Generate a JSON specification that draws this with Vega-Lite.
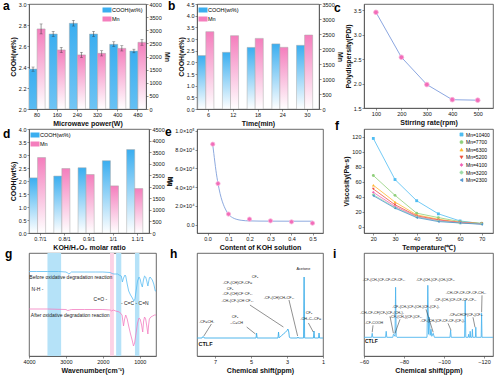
{
"$schema": "https://vega.github.io/schema/vega-lite/v6.json",
"background": "white",
"autosize": {"type": "none"},
"padding": {"left": 29, "top": 4, "right": 471, "bottom": 372},
"columns": 3,
"spacing": {"row": 20, "column": 41},
"bounds": "flush",
"resolve": {"scale": {"color": "independent", "shape": "independent", "x": "independent", "y": "independent"}, "legend": {"color": "independent", "shape": "independent"}},
"config": {
  "font": "Liberation Sans",
  "view": {"stroke": "#444", "strokeWidth": 0.8},
  "axis": {"labelFontSize": 5.5, "titleFontSize": 7, "titleFontWeight": "bold", "labelColor": "#111", "titleColor": "#111", "domainColor": "#444", "tickColor": "#444", "tickSize": 2, "tickWidth": 0.6, "domainWidth": 0.6, "labelPadding": 1, "titlePadding": 2, "grid": false, "labelFlush": false, "labelOverlap": false},
  "legend": {"labelFontSize": 5.5, "labelFont": "Liberation Sans", "titleFontSize": 6, "padding": 1, "rowPadding": 1, "offset": 2, "labelOffset": 2, "symbolStrokeWidth": 0.6, "labelLimit": 120},
  "title": {"fontSize": 12, "fontWeight": "bold", "anchor": "start", "frame": "group", "offset": 0, "color": "#000", "baseline": "alphabetic"}
},
"concat": [
{
  "title": {"text": "a", "dx": -26, "dy": 14.75},
  "width": 117, "height": 105,
  "data": {"values": [
    {"power": 80, "series": "COOH", "val": 2.38, "lo": 2.36, "hi": 2.40},
    {"power": 80, "series": "Mn", "val": 3050, "lo": 2860, "hi": 3240},
    {"power": 160, "series": "COOH", "val": 2.714, "lo": 2.69, "hi": 2.74},
    {"power": 160, "series": "Mn", "val": 2250, "lo": 2150, "hi": 2350},
    {"power": 240, "series": "COOH", "val": 2.816, "lo": 2.79, "hi": 2.845},
    {"power": 240, "series": "Mn", "val": 2060, "lo": 1960, "hi": 2160},
    {"power": 320, "series": "COOH", "val": 2.714, "lo": 2.69, "hi": 2.74},
    {"power": 320, "series": "Mn", "val": 2120, "lo": 2020, "hi": 2220},
    {"power": 400, "series": "COOH", "val": 2.616, "lo": 2.595, "hi": 2.64},
    {"power": 400, "series": "Mn", "val": 2310, "lo": 2210, "hi": 2410},
    {"power": 480, "series": "COOH", "val": 2.552, "lo": 2.535, "hi": 2.57},
    {"power": 480, "series": "Mn", "val": 2540, "lo": 2430, "hi": 2650}
  ]},
  "encoding": {
    "x": {"field": "power", "type": "ordinal", "scale": {"paddingInner": 0.2, "paddingOuter": 0}, "axis": {"title": "Microwave power(W)", "labelAngle": 0}},
    "xOffset": {"field": "series", "type": "nominal", "scale": {"domain": ["COOH", "Mn"]}}
  },
  "layer": [
    {"transform": [{"filter": "datum.series == 'COOH'"}],
     "layer": [
      {"mark": {"type": "bar", "clip": true, "fill": {"gradient": "linear", "x1": 0, "y1": 0, "x2": 0, "y2": 1, "stops": [{"offset": 0, "color": "#3aaef0"}, {"offset": 1, "color": "#ffffff"}]}, "stroke": "#a9a9a9", "strokeWidth": 0.5},
       "encoding": {"y": {"field": "val", "type": "quantitative", "title": "COOH(wt%)", "scale": {"domain": [2, 3], "nice": false, "zero": false}, "axis": {"values": [2, 2.2, 2.4, 2.6, 2.8, 3], "format": ".1f", "labelOverlap": false}}}},
      {"mark": {"type": "rule", "color": "#333", "strokeWidth": 0.5}, "encoding": {"y": {"field": "lo", "type": "quantitative", "title": "COOH(wt%)", "axis": {"values": [2, 2.2, 2.4, 2.6, 2.8, 3], "format": ".1f", "labelOverlap": false}}, "y2": {"field": "hi"}}},
      {"mark": {"type": "tick", "color": "#333", "size": 3, "thickness": 0.5}, "encoding": {"y": {"field": "lo", "type": "quantitative", "title": "COOH(wt%)", "axis": {"values": [2, 2.2, 2.4, 2.6, 2.8, 3], "format": ".1f", "labelOverlap": false}}}},
      {"mark": {"type": "tick", "color": "#333", "size": 3, "thickness": 0.5}, "encoding": {"y": {"field": "hi", "type": "quantitative", "title": "COOH(wt%)", "axis": {"values": [2, 2.2, 2.4, 2.6, 2.8, 3], "format": ".1f", "labelOverlap": false}}}},
      {"mark": {"type": "point", "filled": true, "opacity": 0}, "encoding": {"y": {"field": "val", "type": "quantitative", "title": "COOH(wt%)", "axis": {"values": [2, 2.2, 2.4, 2.6, 2.8, 3], "format": ".1f", "labelOverlap": false}},
        "color": {"field": "series", "type": "nominal", "scale": {"domain": ["COOH", "Mn"], "range": ["#3aaef0", "#f47ebd"]},
          "legend": {"title": null, "orient": "top-right", "labelExpr": "datum.label == 'COOH' ? 'COOH(wt%)' : 'Mn'", "symbolType": "M-1.8,-1H1.8V1H-1.8Z", "symbolSize": 25, "symbolOpacity": 1, "symbolStrokeColor": "#999", "symbolStrokeWidth": 0.4,
            "encode": {"symbols": {"update": {"opacity": {"value": 1}, "fill": {"signal": "datum.value == 'Mn' ? {gradient: 'linear', x1: 0, y1: 0, x2: 0, y2: 1, stops: [{offset: 0, color: '#f47ebd'}, {offset: 1, color: '#ffffff'}]} : {gradient: 'linear', x1: 0, y1: 0, x2: 0, y2: 1, stops: [{offset: 0, color: '#3aaef0'}, {offset: 1, color: '#ffffff'}]}"}}}}}}}}
     ]},
    {"transform": [{"filter": "datum.series == 'Mn'"}],
     "layer": [
      {"mark": {"type": "bar", "clip": true, "fill": {"gradient": "linear", "x1": 0, "y1": 0, "x2": 0, "y2": 1, "stops": [{"offset": 0, "color": "#f47ebd"}, {"offset": 1, "color": "#ffffff"}]}, "stroke": "#a9a9a9", "strokeWidth": 0.5},
       "encoding": {"y": {"field": "val", "type": "quantitative", "title": "Mn", "scale": {"domain": [0, 4000], "nice": false}, "axis": {"orient": "right", "values": [0, 500, 1000, 1500, 2000, 2500, 3000, 3500, 4000], "format": "d", "labelOverlap": false}}}},
      {"mark": {"type": "rule", "color": "#333", "strokeWidth": 0.5}, "encoding": {"y": {"field": "lo", "type": "quantitative", "title": "Mn", "axis": {"orient": "right", "values": [0, 500, 1000, 1500, 2000, 2500, 3000, 3500, 4000], "format": "d", "labelOverlap": false}}, "y2": {"field": "hi"}}},
      {"mark": {"type": "tick", "color": "#333", "size": 3, "thickness": 0.5}, "encoding": {"y": {"field": "lo", "type": "quantitative", "title": "Mn", "axis": {"orient": "right", "values": [0, 500, 1000, 1500, 2000, 2500, 3000, 3500, 4000], "format": "d", "labelOverlap": false}}}},
      {"mark": {"type": "tick", "color": "#333", "size": 3, "thickness": 0.5}, "encoding": {"y": {"field": "hi", "type": "quantitative", "title": "Mn", "axis": {"orient": "right", "values": [0, 500, 1000, 1500, 2000, 2500, 3000, 3500, 4000], "format": "d", "labelOverlap": false}}}}
     ]}
  ],
  "resolve": {"scale": {"y": "independent"}}
},
{
  "title": {"text": "b", "dx": -29, "dy": 14.75},
  "width": 122, "height": 105,
  "data": {"values": [
    {"time": 6, "series": "COOH", "val": 2.29}, {"time": 6, "series": "Mn", "val": 2577},
    {"time": 12, "series": "COOH", "val": 2.43}, {"time": 12, "series": "Mn", "val": 2444},
    {"time": 18, "series": "COOH", "val": 2.64}, {"time": 18, "series": "Mn", "val": 2354},
    {"time": 24, "series": "COOH", "val": 2.79}, {"time": 24, "series": "Mn", "val": 2056},
    {"time": 30, "series": "COOH", "val": 2.73}, {"time": 30, "series": "Mn", "val": 2466}
  ]},
  "encoding": {
    "x": {"field": "time", "type": "ordinal", "scale": {"paddingInner": 0.12, "paddingOuter": 0.03}, "axis": {"title": "Time(min)", "labelAngle": 0}},
    "xOffset": {"field": "series", "type": "nominal", "scale": {"domain": ["COOH", "Mn"]}}
  },
  "layer": [
    {"transform": [{"filter": "datum.series == 'COOH'"}],
     "layer": [
      {"mark": {"type": "bar", "clip": true, "fill": {"gradient": "linear", "x1": 0, "y1": 0, "x2": 0, "y2": 1, "stops": [{"offset": 0, "color": "#3aaef0"}, {"offset": 1, "color": "#ffffff"}]}, "stroke": "#a9a9a9", "strokeWidth": 0.5},
       "encoding": {"y": {"field": "val", "type": "quantitative", "title": "COOH(wt%)", "scale": {"domain": [0, 4.5], "nice": false}, "axis": {"values": [0, 0.5, 1, 1.5, 2, 2.5, 3, 3.5, 4, 4.5], "format": ".1f", "labelOverlap": false}}}},
      {"mark": {"type": "point", "filled": true, "opacity": 0}, "encoding": {"y": {"field": "val", "type": "quantitative", "title": "COOH(wt%)", "axis": {"values": [0, 0.5, 1, 1.5, 2, 2.5, 3, 3.5, 4, 4.5], "format": ".1f", "labelOverlap": false}},
        "color": {"field": "series", "type": "nominal", "scale": {"domain": ["COOH", "Mn"], "range": ["#3aaef0", "#f47ebd"]},
          "legend": {"title": null, "orient": "top-left", "labelExpr": "datum.label == 'COOH' ? 'COOH(wt%)' : 'Mn'", "symbolType": "M-1.8,-1H1.8V1H-1.8Z", "symbolSize": 25, "symbolOpacity": 1, "symbolStrokeColor": "#999", "symbolStrokeWidth": 0.4,
            "encode": {"symbols": {"update": {"opacity": {"value": 1}, "fill": {"signal": "datum.value == 'Mn' ? {gradient: 'linear', x1: 0, y1: 0, x2: 0, y2: 1, stops: [{offset: 0, color: '#f47ebd'}, {offset: 1, color: '#ffffff'}]} : {gradient: 'linear', x1: 0, y1: 0, x2: 0, y2: 1, stops: [{offset: 0, color: '#3aaef0'}, {offset: 1, color: '#ffffff'}]}"}}}}}}}}
     ]},
    {"transform": [{"filter": "datum.series == 'Mn'"}],
     "mark": {"type": "bar", "clip": true, "fill": {"gradient": "linear", "x1": 0, "y1": 0, "x2": 0, "y2": 1, "stops": [{"offset": 0, "color": "#f47ebd"}, {"offset": 1, "color": "#ffffff"}]}, "stroke": "#a9a9a9", "strokeWidth": 0.5},
     "encoding": {"y": {"field": "val", "type": "quantitative", "title": "Mn", "scale": {"domain": [0, 3500], "nice": false}, "axis": {"orient": "right", "values": [0, 500, 1000, 1500, 2000, 2500, 3000, 3500], "format": "d", "labelOverlap": false}}}}
  ],
  "resolve": {"scale": {"y": "independent"}}
},
{
  "title": {"text": "c", "dx": -30, "dy": 15},
  "width": 129, "height": 104,
  "data": {"values": [{"rate": 100, "pdi": 3.46}, {"rate": 200, "pdi": 2.54}, {"rate": 300, "pdi": 1.98}, {"rate": 400, "pdi": 1.67}, {"rate": 500, "pdi": 1.66}]},
  "encoding": {
    "x": {"field": "rate", "type": "quantitative", "scale": {"domain": [53, 560], "nice": false}, "axis": {"title": "Stirring rate(rpm)", "values": [100, 200, 300, 400, 500]}},
    "y": {"field": "pdi", "type": "quantitative", "scale": {"domain": [1.5, 3.63], "nice": false, "zero": false}, "axis": {"title": "Polydispersity(PDI)", "values": [1.5, 2, 2.5, 3, 3.5], "format": ".1f"}}
  },
  "layer": [
    {"mark": {"type": "line", "color": "#6d8fd8", "strokeWidth": 0.8}},
    {"mark": {"type": "point", "filled": true, "fill": "#f26cb9", "stroke": "#f9b3d9", "strokeWidth": 0.8, "size": 22, "opacity": 1}}
  ]
},
{
  "title": {"text": "d", "dx": -26, "dy": 17.5},
  "width": 120, "height": 104,
  "data": {"values": [
    {"ratio": "0.7/1", "series": "COOH", "val": 2.12}, {"ratio": "0.7/1", "series": "Mn", "val": 3266},
    {"ratio": "0.8/1", "series": "COOH", "val": 2.19}, {"ratio": "0.8/1", "series": "Mn", "val": 2791},
    {"ratio": "0.9/1", "series": "COOH", "val": 2.51}, {"ratio": "0.9/1", "series": "Mn", "val": 2531},
    {"ratio": "1/1", "series": "COOH", "val": 2.78}, {"ratio": "1/1", "series": "Mn", "val": 2039},
    {"ratio": "1.1/1", "series": "COOH", "val": 3.21}, {"ratio": "1.1/1", "series": "Mn", "val": 1923}
  ]},
  "encoding": {
    "x": {"field": "ratio", "type": "ordinal", "sort": ["0.7/1", "0.8/1", "0.9/1", "1/1", "1.1/1"], "scale": {"paddingInner": 0.1, "paddingOuter": 0.02}, "axis": {"title": "KOH/H₂O₂ molar ratio", "labelAngle": 0}},
    "xOffset": {"field": "series", "type": "nominal", "scale": {"domain": ["COOH", "Mn"]}}
  },
  "layer": [
    {"transform": [{"filter": "datum.series == 'COOH'"}],
     "layer": [
      {"mark": {"type": "bar", "clip": true, "fill": {"gradient": "linear", "x1": 0, "y1": 0, "x2": 0, "y2": 1, "stops": [{"offset": 0, "color": "#3aaef0"}, {"offset": 1, "color": "#ffffff"}]}, "stroke": "#a9a9a9", "strokeWidth": 0.5},
       "encoding": {"y": {"field": "val", "type": "quantitative", "title": "COOH(wt%)", "scale": {"domain": [0, 4], "nice": false}, "axis": {"values": [0, 0.5, 1, 1.5, 2, 2.5, 3, 3.5, 4], "format": ".1f", "labelOverlap": false}}}},
      {"mark": {"type": "point", "filled": true, "opacity": 0}, "encoding": {"y": {"field": "val", "type": "quantitative", "title": "COOH(wt%)", "axis": {"values": [0, 0.5, 1, 1.5, 2, 2.5, 3, 3.5, 4], "format": ".1f", "labelOverlap": false}},
        "color": {"field": "series", "type": "nominal", "scale": {"domain": ["COOH", "Mn"], "range": ["#3aaef0", "#f47ebd"]},
          "legend": {"title": null, "orient": "top-left", "labelExpr": "datum.label == 'COOH' ? 'COOH(wt%)' : 'Mn'", "symbolType": "M-1.8,-1H1.8V1H-1.8Z", "symbolSize": 25, "symbolOpacity": 1, "symbolStrokeColor": "#999", "symbolStrokeWidth": 0.4,
            "encode": {"symbols": {"update": {"opacity": {"value": 1}, "fill": {"signal": "datum.value == 'Mn' ? {gradient: 'linear', x1: 0, y1: 0, x2: 0, y2: 1, stops: [{offset: 0, color: '#f47ebd'}, {offset: 1, color: '#ffffff'}]} : {gradient: 'linear', x1: 0, y1: 0, x2: 0, y2: 1, stops: [{offset: 0, color: '#3aaef0'}, {offset: 1, color: '#ffffff'}]}"}}}}}}}}
     ]},
    {"transform": [{"filter": "datum.series == 'Mn'"}],
     "mark": {"type": "bar", "clip": true, "fill": {"gradient": "linear", "x1": 0, "y1": 0, "x2": 0, "y2": 1, "stops": [{"offset": 0, "color": "#f47ebd"}, {"offset": 1, "color": "#ffffff"}]}, "stroke": "#a9a9a9", "strokeWidth": 0.5},
     "encoding": {"y": {"field": "val", "type": "quantitative", "title": "Mn", "scale": {"domain": [0, 4500], "nice": false}, "axis": {"orient": "right", "values": [0, 500, 1000, 1500, 2000, 2500, 3000, 3500, 4000, 4500], "format": "d", "labelOverlap": false}}}}
  ],
  "resolve": {"scale": {"y": "independent"}}
},
{
  "title": {"text": "e", "dx": -32, "dy": 14.5},
  "width": 126, "height": 104,
  "encoding": {
    "x": {"field": "koh", "type": "quantitative", "scale": {"domain": [-0.05, 0.55], "nice": false}, "axis": {"title": "Content of KOH solution", "values": [0, 0.1, 0.2, 0.3, 0.4, 0.5], "format": ".1f"}},
    "y": {"field": "mn", "type": "quantitative", "scale": {"domain": [-9000, 102000], "nice": false, "zero": false}, "axis": {"title": "Mn", "values": [0, 20000, 40000, 60000, 80000, 100000], "labelExpr": "datum.value == 0 ? '0.0' : datum.value >= 100000 ? '1.0×10⁵' : format(datum.value / 10000, '.1f') + '×10⁴'"}}
  },
  "layer": [
    {"data": {"values": [
      {"koh": 0.025, "mn": 85000}, {"koh": 0.03, "mn": 76000}, {"koh": 0.04, "mn": 58000}, {"koh": 0.05, "mn": 44000},
      {"koh": 0.06, "mn": 33000}, {"koh": 0.07, "mn": 25000}, {"koh": 0.08, "mn": 19000}, {"koh": 0.09, "mn": 14500},
      {"koh": 0.1, "mn": 11000}, {"koh": 0.12, "mn": 7300}, {"koh": 0.14, "mn": 5500}, {"koh": 0.16, "mn": 4600},
      {"koh": 0.18, "mn": 4100}, {"koh": 0.2, "mn": 3900}, {"koh": 0.25, "mn": 3700}, {"koh": 0.3, "mn": 3650},
      {"koh": 0.4, "mn": 3600}, {"koh": 0.5, "mn": 3600}
     ]},
     "mark": {"type": "line", "color": "#8eaadf", "strokeWidth": 1, "interpolate": "monotone"}},
    {"data": {"values": [
      {"koh": 0.025, "mn": 85800}, {"koh": 0.05, "mn": 43700}, {"koh": 0.1, "mn": 11200}, {"koh": 0.2, "mn": 5800},
      {"koh": 0.3, "mn": 4000}, {"koh": 0.4, "mn": 2900}, {"koh": 0.5, "mn": 1500}
     ]},
     "mark": {"type": "point", "filled": true, "fill": "#f26cb9", "stroke": "#f9b3d9", "strokeWidth": 0.8, "size": 18, "opacity": 1}}
  ]
},
{
  "title": {"text": "f", "dx": -29, "dy": 8},
  "width": 129, "height": 104,
  "data": {"values": [
    {"t": 20, "s": "Mn=10400", "v": 117.8}, {"t": 30, "s": "Mn=10400", "v": 62.9}, {"t": 40, "s": "Mn=10400", "v": 34.6}, {"t": 50, "s": "Mn=10400", "v": 17.1}, {"t": 60, "s": "Mn=10400", "v": 7.6}, {"t": 70, "s": "Mn=10400", "v": 4},
    {"t": 20, "s": "Mn=7700", "v": 68.3}, {"t": 30, "s": "Mn=7700", "v": 41.8}, {"t": 40, "s": "Mn=7700", "v": 18}, {"t": 50, "s": "Mn=7700", "v": 12.1}, {"t": 60, "s": "Mn=7700", "v": 6.7}, {"t": 70, "s": "Mn=7700", "v": 4.5},
    {"t": 20, "s": "Mn=6300", "v": 55.3}, {"t": 30, "s": "Mn=6300", "v": 32.8}, {"t": 40, "s": "Mn=6300", "v": 15.7}, {"t": 50, "s": "Mn=6300", "v": 9.9}, {"t": 60, "s": "Mn=6300", "v": 5.8}, {"t": 70, "s": "Mn=6300", "v": 4},
    {"t": 20, "s": "Mn=5200", "v": 50.3}, {"t": 30, "s": "Mn=5200", "v": 29.2}, {"t": 40, "s": "Mn=5200", "v": 14.4}, {"t": 50, "s": "Mn=5200", "v": 9}, {"t": 60, "s": "Mn=5200", "v": 5.4}, {"t": 70, "s": "Mn=5200", "v": 4},
    {"t": 20, "s": "Mn=4100", "v": 45.8}, {"t": 30, "s": "Mn=4100", "v": 27}, {"t": 40, "s": "Mn=4100", "v": 13.5}, {"t": 50, "s": "Mn=4100", "v": 8.1}, {"t": 60, "s": "Mn=4100", "v": 5.4}, {"t": 70, "s": "Mn=4100", "v": 3.6},
    {"t": 20, "s": "Mn=3200", "v": 42.7}, {"t": 30, "s": "Mn=3200", "v": 25.6}, {"t": 40, "s": "Mn=3200", "v": 13}, {"t": 50, "s": "Mn=3200", "v": 7.6}, {"t": 60, "s": "Mn=3200", "v": 4.9}, {"t": 70, "s": "Mn=3200", "v": 3.6},
    {"t": 20, "s": "Mn=2300", "v": 41.3}, {"t": 30, "s": "Mn=2300", "v": 24.7}, {"t": 40, "s": "Mn=2300", "v": 12.1}, {"t": 50, "s": "Mn=2300", "v": 6.7}, {"t": 60, "s": "Mn=2300", "v": 4.9}, {"t": 70, "s": "Mn=2300", "v": 3.1}
  ]},
  "encoding": {
    "x": {"field": "t", "type": "quantitative", "scale": {"domain": [15.7, 75.2], "nice": false}, "axis": {"title": "Temperature(℃)", "values": [20, 30, 40, 50, 60, 70]}},
    "y": {"field": "v", "type": "quantitative", "scale": {"domain": [-8.5, 130.4], "nice": false, "zero": false}, "axis": {"title": "Viscosity(Pa·s)", "values": [0, 20, 40, 60, 80, 100, 120]}},
    "color": {"field": "s", "type": "nominal", "scale": {"domain": ["Mn=10400", "Mn=7700", "Mn=6300", "Mn=5200", "Mn=4100", "Mn=3200", "Mn=2300"], "range": ["#4fbdf2", "#8fcf7a", "#ffb62e", "#ee4f3c", "#f160b6", "#9fdcaa", "#4d92cf"]},
      "legend": {"title": null, "orient": "top-right", "labelFontSize": 5, "symbolSize": 10, "rowPadding": 0.6, "offset": 3, "padding": 0}}
  },
  "layer": [
    {"mark": {"type": "line", "strokeWidth": 0.8}},
    {"mark": {"type": "point", "filled": true, "size": 8, "opacity": 1},
     "encoding": {"shape": {"field": "s", "type": "nominal", "scale": {"domain": ["Mn=10400", "Mn=7700", "Mn=6300", "Mn=5200", "Mn=4100", "Mn=3200", "Mn=2300"], "range": ["square", "circle", "triangle-up", "triangle-down", "diamond", "cross", "triangle-left"]},
      "legend": {"title": null, "orient": "top-right", "labelFontSize": 5, "symbolSize": 10, "rowPadding": 0.6, "offset": 3, "padding": 0}}}}
  ]
},
{
  "title": {"text": "g", "dx": -24, "dy": 12},
  "width": 127, "height": 103,
  "layer": [
    {"data": {"values": [{"a": 3500, "b": 3130}, {"a": 1640, "b": 1500}, {"a": 1130, "b": 1010}]},
     "mark": {"type": "rect", "color": "#b5e2f8", "opacity": 1},
     "encoding": {"x": {"field": "a", "type": "quantitative", "scale": {"domain": [560, 4000], "reverse": true, "nice": false, "zero": false}, "axis": {"title": "Wavenumber(cm⁻¹)", "values": [1000, 1500, 2000, 2500, 3000, 3500, 4000], "format": "d"}}, "x2": {"field": "b"}}},
    {"data": {"values": [{"a": 1805, "b": 1700}]},
     "mark": {"type": "rect", "color": "#fcd3e6", "opacity": 1},
     "encoding": {"x": {"field": "a", "type": "quantitative"}, "x2": {"field": "b"}}},
    {"data": {"values": [
      {"wn": 4000, "v": 84.5}, {"wn": 3800, "v": 84.5}, {"wn": 3500, "v": 84.5}, {"wn": 3200, "v": 84.5}, {"wn": 3000, "v": 84}, {"wn": 2950, "v": 83}, {"wn": 2920, "v": 82}, {"wn": 2880, "v": 83}, {"wn": 2850, "v": 84},
      {"wn": 2500, "v": 84}, {"wn": 2200, "v": 84}, {"wn": 2000, "v": 84}, {"wn": 1800, "v": 83.5}, {"wn": 1750, "v": 82.5}, {"wn": 1700, "v": 82}, {"wn": 1650, "v": 82}, {"wn": 1600, "v": 82},
      {"wn": 1560, "v": 81}, {"wn": 1500, "v": 80}, {"wn": 1470, "v": 74}, {"wn": 1440, "v": 78}, {"wn": 1400, "v": 81}, {"wn": 1380, "v": 80}, {"wn": 1340, "v": 72}, {"wn": 1300, "v": 65},
      {"wn": 1250, "v": 61}, {"wn": 1200, "v": 58}, {"wn": 1160, "v": 55}, {"wn": 1130, "v": 57}, {"wn": 1100, "v": 65}, {"wn": 1060, "v": 75}, {"wn": 1020, "v": 79}, {"wn": 990, "v": 77},
      {"wn": 960, "v": 72}, {"wn": 930, "v": 69}, {"wn": 900, "v": 76}, {"wn": 870, "v": 80}, {"wn": 840, "v": 79}, {"wn": 810, "v": 75}, {"wn": 780, "v": 70}, {"wn": 760, "v": 74},
      {"wn": 740, "v": 78}, {"wn": 720, "v": 79}, {"wn": 700, "v": 78}, {"wn": 660, "v": 76}, {"wn": 620, "v": 72}, {"wn": 580, "v": 65}, {"wn": 560, "v": 65}
     ]},
     "mark": {"type": "line", "color": "#5bbcf2", "strokeWidth": 0.8},
     "encoding": {"x": {"field": "wn", "type": "quantitative"}, "y": {"field": "v", "type": "quantitative", "scale": {"domain": [0, 103], "nice": false}, "axis": null}}},
    {"data": {"values": [
      {"wn": 4000, "v": 47}, {"wn": 3500, "v": 47}, {"wn": 3000, "v": 46.5}, {"wn": 2950, "v": 45.5}, {"wn": 2900, "v": 46}, {"wn": 2850, "v": 46.5}, {"wn": 2500, "v": 46.5}, {"wn": 2000, "v": 46.5},
      {"wn": 1800, "v": 46}, {"wn": 1760, "v": 45}, {"wn": 1720, "v": 46}, {"wn": 1650, "v": 45}, {"wn": 1550, "v": 44}, {"wn": 1480, "v": 41}, {"wn": 1440, "v": 30}, {"wn": 1410, "v": 37},
      {"wn": 1380, "v": 41}, {"wn": 1340, "v": 37}, {"wn": 1300, "v": 30}, {"wn": 1250, "v": 22}, {"wn": 1200, "v": 15}, {"wn": 1170, "v": 10}, {"wn": 1140, "v": 13}, {"wn": 1100, "v": 23},
      {"wn": 1060, "v": 33}, {"wn": 1020, "v": 38}, {"wn": 990, "v": 37}, {"wn": 950, "v": 31}, {"wn": 920, "v": 24}, {"wn": 895, "v": 35}, {"wn": 870, "v": 39}, {"wn": 840, "v": 37},
      {"wn": 810, "v": 30}, {"wn": 780, "v": 22}, {"wn": 760, "v": 31}, {"wn": 740, "v": 37}, {"wn": 700, "v": 39}, {"wn": 650, "v": 40}, {"wn": 600, "v": 41}, {"wn": 560, "v": 41}
     ]},
     "mark": {"type": "line", "color": "#f27ec0", "strokeWidth": 0.8},
     "encoding": {"x": {"field": "wn", "type": "quantitative"}, "y": {"field": "v", "type": "quantitative"}}},
    {"data": {"values": [
      {"wn": 3990, "v": 79, "t": "Before oxidative degradation reaction"},
      {"wn": 3930, "v": 67, "t": "N-H -"},
      {"wn": 2250, "v": 57, "t": "C=O -"},
      {"wn": 1510, "v": 53, "t": "- C=C - C=N"},
      {"wn": 3950, "v": 41, "t": "After oxidative degradation reaction"}
     ]},
     "mark": {"type": "text", "align": "left", "baseline": "middle", "fontSize": 5, "color": "#222"},
     "encoding": {"x": {"field": "wn", "type": "quantitative"}, "y": {"field": "v", "type": "quantitative"}, "text": {"field": "t"}}}
  ]
},
{
  "title": {"text": "h", "dx": -27, "dy": 12},
  "width": 126, "height": 103,
  "layer": [
    {"data": {"values": [
      {"p": 8, "y": 0}, {"p": 7.72, "y": 0}, {"p": 7.69, "y": 1.2}, {"p": 7.63, "y": 1.2}, {"p": 7.6, "y": 0}, {"p": 4.72, "y": 0}, {"p": 4.69, "y": 5}, {"p": 4.66, "y": 0},
      {"p": 3.5, "y": 0}, {"p": 3.47, "y": 6}, {"p": 3.44, "y": 0.3}, {"p": 3.4, "y": 0.6}, {"p": 3.3, "y": 2.5}, {"p": 3.2, "y": 4}, {"p": 3.1, "y": 5.5}, {"p": 3.0, "y": 7.5},
      {"p": 2.95, "y": 9}, {"p": 2.9, "y": 6}, {"p": 2.87, "y": 1}, {"p": 2.82, "y": 0}, {"p": 2.42, "y": 0}, {"p": 2.39, "y": 1}, {"p": 2.36, "y": 0}, {"p": 2.08, "y": 0},
      {"p": 2.05, "y": 61}, {"p": 2.02, "y": 0}, {"p": 1.53, "y": 0}, {"p": 1.5, "y": 7}, {"p": 1.47, "y": 0}, {"p": 1.25, "y": 0}, {"p": 1.22, "y": 5}, {"p": 1.19, "y": 0}, {"p": 1, "y": 0}
     ]},
     "mark": {"type": "line", "color": "#3daee9", "strokeWidth": 0.9},
     "encoding": {"x": {"field": "p", "type": "quantitative", "scale": {"domain": [1, 8], "reverse": true, "nice": false, "zero": false}, "axis": {"title": "Chemical shift(ppm)", "values": [1, 2, 3, 4, 5, 6, 7, 8]}},
       "y": {"field": "y", "type": "quantitative", "scale": {"domain": [-18, 85], "nice": false}, "axis": null}}},
    {"data": {"values": [
      {"x": 7.2, "y": 14, "x2": 7.62, "y2": 2}, {"x": 5.24, "y": 11, "x2": 4.75, "y2": 4}, {"x": 5.06, "y": 33, "x2": 3.2, "y2": 11},
      {"x": 2.89, "y": 38, "x2": 2.41, "y2": 2}, {"x": 1.81, "y": 15, "x2": 1.54, "y2": 6}
     ]},
     "mark": {"type": "rule", "color": "#222", "strokeWidth": 0.5},
     "encoding": {"x": {"field": "x", "type": "quantitative"}, "y": {"field": "y", "type": "quantitative"}, "x2": {"field": "x2"}, "y2": {"field": "y2"}}},
    {"data": {"values": [
      {"x": 7.47, "y": 16, "t": "-CF=CH-"},
      {"x": 5.89, "y": 21, "t": "CF₃"},
      {"x": 5.8, "y": 15, "t": "–C=CH"},
      {"x": 4.78, "y": 61, "t": "CF₃"},
      {"x": 5.75, "y": 55, "t": "-CF₂(CH)CF₂CF="},
      {"x": 6.17, "y": 49, "t": "CF₃"},
      {"x": 5.75, "y": 44, "t": "-CF₂(CH)CF·CF₂-"},
      {"x": 5.75, "y": 37, "t": "-CH₂(CF₂)CH·CF₂-"},
      {"x": 3.44, "y": 40, "t": "-CF₂(CH)CH₂CF₂-"},
      {"x": 2.09, "y": 69, "t": "Acetone"},
      {"x": 1.78, "y": 25, "t": "CF₃"},
      {"x": 1.68, "y": 19, "t": "-CH–C–CF="}
     ]},
     "mark": {"type": "text", "fontSize": 3.8, "color": "#222", "baseline": "middle"},
     "encoding": {"x": {"field": "x", "type": "quantitative"}, "y": {"field": "y", "type": "quantitative"}, "text": {"field": "t"}}},
    {"data": {"values": [{"x": 7.92, "y": -6, "t": "CTLF"}]},
     "mark": {"type": "text", "fontSize": 5.5, "fontWeight": "bold", "color": "#111", "align": "left", "baseline": "middle"},
     "encoding": {"x": {"field": "x", "type": "quantitative"}, "y": {"field": "y", "type": "quantitative"}, "text": {"field": "t"}}}
  ]
},
{
  "title": {"text": "i", "dx": -31, "dy": 12},
  "width": 129, "height": 103,
  "layer": [
    {"data": {"values": [
      {"p": -60, "y": 0}, {"p": -63.8, "y": 0}, {"p": -64.1, "y": 4}, {"p": -64.4, "y": 0}, {"p": -70.8, "y": 0}, {"p": -71.1, "y": 6}, {"p": -71.4, "y": 0},
      {"p": -74.4, "y": 0}, {"p": -74.7, "y": 3}, {"p": -75.5, "y": 1}, {"p": -75.8, "y": 50}, {"p": -76.1, "y": 1}, {"p": -76.5, "y": 0},
      {"p": -91.5, "y": 0}, {"p": -91.9, "y": 52}, {"p": -92.3, "y": 3}, {"p": -92.7, "y": 20}, {"p": -93.1, "y": 2}, {"p": -93.5, "y": 8}, {"p": -93.9, "y": 1}, {"p": -94.6, "y": 4}, {"p": -95.2, "y": 0},
      {"p": -103, "y": 0}, {"p": -103.3, "y": 7}, {"p": -103.6, "y": 0}, {"p": -110.3, "y": 0}, {"p": -110.6, "y": 37}, {"p": -110.9, "y": 0},
      {"p": -112.1, "y": 0}, {"p": -112.3, "y": 3}, {"p": -112.5, "y": 0}, {"p": -112.9, "y": 0}, {"p": -113.1, "y": 6}, {"p": -113.3, "y": 0},
      {"p": -114, "y": 0}, {"p": -114.2, "y": 8}, {"p": -114.4, "y": 0}, {"p": -115.7, "y": 0}, {"p": -115.9, "y": 10}, {"p": -116.1, "y": 0},
      {"p": -118.6, "y": 0}, {"p": -118.8, "y": 24}, {"p": -119, "y": 0}, {"p": -124.5, "y": 0}
     ]},
     "mark": {"type": "line", "color": "#4fb6ee", "strokeWidth": 0.9},
     "encoding": {"x": {"field": "p", "type": "quantitative", "scale": {"domain": [-124.5, -60], "reverse": true, "nice": false, "zero": false}, "axis": {"title": "Chemical shift(ppm)", "values": [-120, -110, -100, -90, -80, -70, -60]}},
       "y": {"field": "y", "type": "quantitative", "scale": {"domain": [-18.7, 84.3], "nice": false}, "axis": null}}},
    {"data": {"values": [
      {"x": -64.5, "y": 12, "x2": -64.1, "y2": 5}, {"x": -73, "y": 21, "x2": -74.7, "y2": 4}, {"x": -91, "y": 28, "x2": -94.6, "y2": 5},
      {"x": -78, "y": 18, "x2": -75.5, "y2": 4}, {"x": -102, "y": 14, "x2": -103.5, "y2": 7}, {"x": -114.5, "y": 20, "x2": -115.5, "y2": 10}, {"x": -119, "y": 42, "x2": -118.8, "y2": 25}
     ]},
     "mark": {"type": "rule", "color": "#222", "strokeWidth": 0.5},
     "encoding": {"x": {"field": "x", "type": "quantitative"}, "y": {"field": "y", "type": "quantitative"}, "x2": {"field": "x2"}, "y2": {"field": "y2"}}},
    {"data": {"values": [
      {"x": -70, "y": 57, "t": "-CF₂(CH₂)CF₂CF₂CF₂CF₂-"},
      {"x": -95.8, "y": 57, "t": "-CF₂(CH₂)CF₂(CH₂)CF₂-"},
      {"x": -69, "y": 24, "t": "-CH₂CF₂CF(CF₃)CF₂(CH₂)-"},
      {"x": -86, "y": 30, "t": "-CF₂(CH₂)CF₂(CH₂)CF₂(CF₂)-"},
      {"x": -81, "y": 20.6, "t": "-CF₂(CH₂)(CF₂)CF₂-"},
      {"x": -99.3, "y": 16.6, "t": "-CF₂(CH₂)CF₂CF₂CF₂(CF₂)-"},
      {"x": -111, "y": 44.6, "t": "-CH₂CF₂CF₂CF₂CF₂CH₂-"},
      {"x": -105.7, "y": 37, "t": "-CF₂(CH₂)CF₂CF₂CF₂CF₂-"},
      {"x": -111, "y": 22, "t": "-CF=CHCF(CF₃)CF₂-"},
      {"x": -65, "y": 14.6, "t": "-CF₂COOH"}
     ]},
     "mark": {"type": "text", "fontSize": 3.6, "color": "#222", "baseline": "middle"},
     "encoding": {"x": {"field": "x", "type": "quantitative"}, "y": {"field": "y", "type": "quantitative"}, "text": {"field": "t"}}},
    {"data": {"values": [{"x": -60.5, "y": -3.4, "t": "CTLF"}]},
     "mark": {"type": "text", "fontSize": 5, "fontWeight": "bold", "color": "#111", "align": "left", "baseline": "middle"},
     "encoding": {"x": {"field": "x", "type": "quantitative"}, "y": {"field": "y", "type": "quantitative"}, "text": {"field": "t"}}}
  ]
}
]
}
